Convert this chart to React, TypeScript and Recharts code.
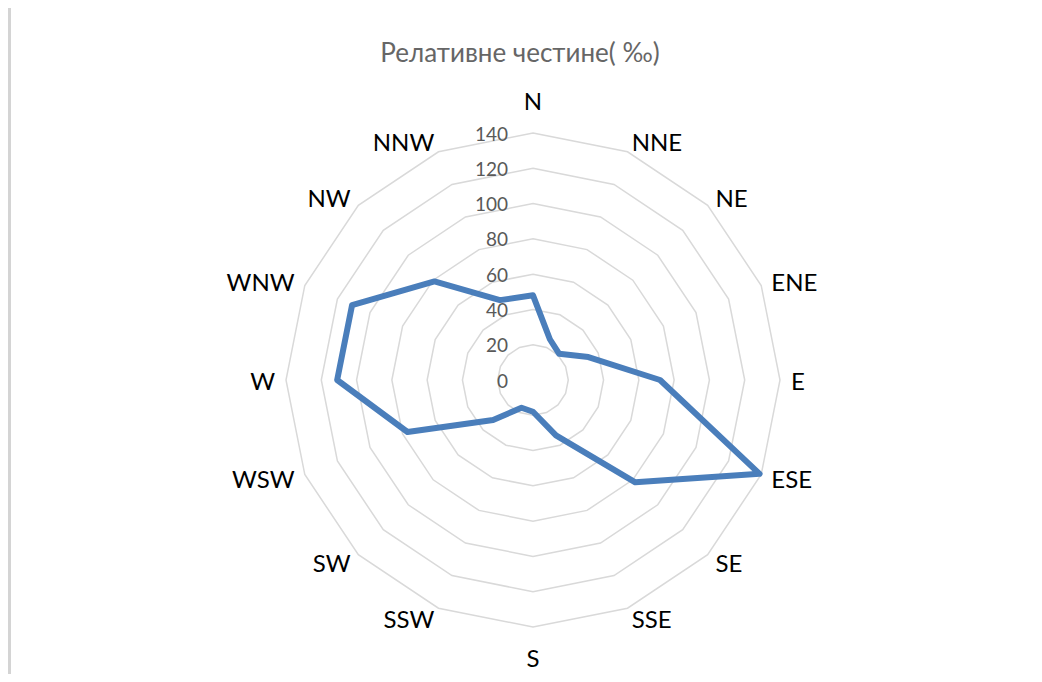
import { PolarAngleAxis, PolarGrid, PolarRadiusAxis, Radar, RadarChart } from "recharts";

const directions = ["N", "NNE", "NE", "ENE", "E", "ESE", "SE", "SSE", "S", "SSW", "SW", "WSW", "W", "WNW", "NW", "NNW"];
const frequencies = [48, 25, 21, 34, 72, 139, 82, 34, 18, 17, 32, 77, 111, 111, 79, 49];
const radiusTicks = [0, 20, 40, 60, 80, 100, 120, 140];

const data = directions.map((dir, i) => ({ dir, value: frequencies[i] }));

const FONT = "Lato, 'Open Sans', sans-serif";
const CX = 522;
const CY = 372;
const OUTER = 247;

function AngleTick(props: any) {
  const { payload } = props;
  const rad = (payload.coordinate * Math.PI) / 180;
  const cos = Math.cos(rad);
  const sin = Math.sin(rad);
  const r = OUTER + 11;
  const x = CX + r * cos;
  let y = CY - r * sin;
  let anchor: "start" | "end" | "middle" = "middle";
  if (cos > 1e-3) anchor = "start";
  else if (cos < -1e-3) anchor = "end";
  else y -= sin * (sin > 0 ? 22 : 19);
  return (
    <text x={x} y={y} textAnchor={anchor} dominantBaseline="central" fontSize={24} fontFamily={FONT} fill="#000">
      {payload.value}
    </text>
  );
}

function RadiusTick(props: any) {
  const { x, y, payload } = props;
  return (
    <text x={x - 25} y={y} textAnchor="end" dominantBaseline="central" fontSize={19} fontFamily={FONT} fill="#595959">
      {payload.value}
    </text>
  );
}

export default function App() {
  return (
    <div style={{ position: "relative", width: 1026, height: 666, borderLeft: "3px solid #d4d4d4" }}>
      <div
        style={{
          position: "absolute",
          left: 0,
          width: 1040,
          top: 28,
          textAlign: "center",
          fontFamily: FONT,
          fontSize: 26,
          color: "#666666",
          marginLeft: -11,
        }}
      >
        Релативне честине( ‰)
      </div>
      <RadarChart width={1023} height={666} data={data} cx={CX} cy={CY} outerRadius={OUTER} margin={{ top: 0, right: 0, bottom: 0, left: 0 }}>
        <PolarGrid gridType="polygon" radialLines={false} stroke="#d9d9d9" strokeWidth={1.5} />
        <PolarAngleAxis dataKey="dir" tick={<AngleTick />} tickLine={false} axisLine={false} />
        <PolarRadiusAxis
          angle={90}
          domain={[0, 140]}
          ticks={radiusTicks}
          tickCount={8}
          tick={<RadiusTick />}
          axisLine={false}
          tickLine={false}
        />
        <Radar
          dataKey="value"
          stroke="#4a7ebb"
          strokeWidth={6}
          strokeLinejoin="round"
          fill="none"
          fillOpacity={0}
          dot={false}
          isAnimationActive={false}
        />
      </RadarChart>
    </div>
  );
}
